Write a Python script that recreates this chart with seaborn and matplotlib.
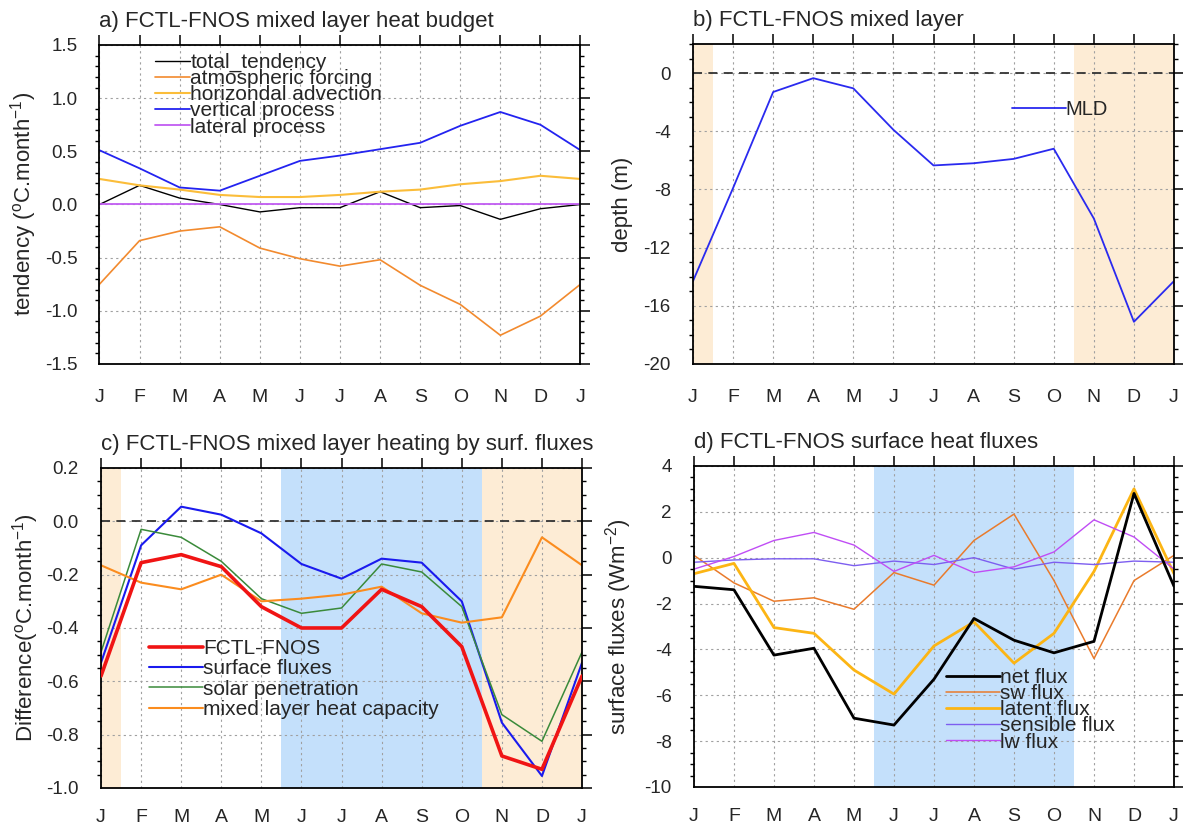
import numpy as np
import pandas as pd
import matplotlib
matplotlib.use("Agg")
import matplotlib.pyplot as plt
import seaborn as sns
from matplotlib.ticker import MultipleLocator, FormatStrFormatter

sns.set_style("white")
plt.rcParams['font.family'] = ['Liberation Sans', 'DejaVu Sans']
plt.rcParams['mathtext.fontset'] = 'custom'
plt.rcParams['mathtext.rm'] = 'Liberation Sans'
plt.rcParams['mathtext.it'] = 'Liberation Sans:italic'
plt.rcParams['axes.unicode_minus'] = False

# month labels (Jan .. Dec, then Jan again to close the annual cycle)
months = ['J', 'F', 'M', 'A', 'M', 'J', 'J', 'A', 'S', 'O', 'N', 'D', 'J']

# a) mixed layer heat budget (degC/month)
total_tendency = [0.0, 0.18, 0.06, 0.0, -0.07, -0.03, -0.03, 0.12, -0.03, -0.01, -0.14, -0.04]
atm_forcing = [-0.75, -0.34, -0.25, -0.21, -0.41, -0.51, -0.58, -0.52, -0.76, -0.94, -1.23, -1.05]
horiz_adv = [0.24, 0.18, 0.14, 0.09, 0.07, 0.07, 0.09, 0.12, 0.14, 0.19, 0.22, 0.27]
vertical = [0.51, 0.34, 0.16, 0.13, 0.27, 0.41, 0.46, 0.52, 0.58, 0.74, 0.87, 0.75]
lateral = [0.005, 0.005, 0.005, 0.005, 0.005, 0.005, 0.005, 0.005, 0.005, 0.005, 0.005, 0.005]

# b) mixed layer depth difference (m)
mld = [-14.3, -7.9, -1.3, -0.35, -1.05, -3.9, -6.35, -6.2, -5.9, -5.2, -10.0, -17.1]

# c) heating by surface fluxes (degC/month)
fctl_fnos = [-0.58, -0.155, -0.125, -0.17, -0.32, -0.40, -0.40, -0.255, -0.32, -0.47, -0.88, -0.93]
surf_flux = [-0.53, -0.09, 0.055, 0.025, -0.045, -0.16, -0.215, -0.14, -0.155, -0.30, -0.755, -0.955]
solar_pen = [-0.49, -0.03, -0.06, -0.15, -0.29, -0.345, -0.325, -0.16, -0.19, -0.32, -0.725, -0.825]
heat_cap = [-0.165, -0.23, -0.255, -0.20, -0.30, -0.29, -0.275, -0.245, -0.345, -0.38, -0.36, -0.06]

# d) surface heat fluxes (W m-2)
net_flux = [-1.25, -1.4, -4.25, -3.95, -7.0, -7.3, -5.3, -2.65, -3.6, -4.15, -3.65, 2.8]
sw_flux = [0.1, -1.1, -1.9, -1.75, -2.25, -0.65, -1.2, 0.75, 1.9, -1.0, -4.4, -1.0]
latent_flux = [-0.7, -0.25, -3.05, -3.3, -4.9, -5.95, -3.85, -2.8, -4.6, -3.3, -0.6, 3.0]
sensible_flux = [-0.2, -0.1, -0.05, -0.05, -0.35, -0.15, -0.3, 0.0, -0.5, -0.2, -0.3, -0.15]
lw_flux = [-0.5, 0.05, 0.75, 1.1, 0.55, -0.6, 0.1, -0.65, -0.4, 0.25, 1.65, 0.9]

x = np.arange(len(months))


def cyc(v):
    return list(v) + [v[0]]


ORANGE_BG = '#fdecd5'
BLUE_BG = '#c4e0fb'

fig = plt.figure(figsize=(11.83, 8.27), dpi=100)
axa = fig.add_axes([0.0841, 0.5599, 0.4066, 0.3857])
axb = fig.add_axes([0.5858, 0.5599, 0.4066, 0.3869])
axc = fig.add_axes([0.0854, 0.0472, 0.4066, 0.3869])
axd = fig.add_axes([0.5866, 0.0484, 0.4058, 0.3882])


def style(ax, ylim, major, minor, fmt, title, ylabel, xpad=11):
    ax.set_xlim(0, 12)
    ax.set_ylim(*ylim)
    ax.set_xticks(x)
    ax.set_xticklabels(months)
    ax.yaxis.set_major_locator(MultipleLocator(major))
    ax.yaxis.set_minor_locator(MultipleLocator(minor))
    ax.yaxis.set_major_formatter(FormatStrFormatter(fmt))
    ax.set_axisbelow(True)
    ax.grid(True, which='major', color='#a0a0a0', lw=0.8, ls=(0, (2, 3)))
    for s in ax.spines.values():
        s.set_visible(True)
        s.set_color('black')
        s.set_linewidth(1.3)
    ax.tick_params(axis='both', which='major', direction='out', length=7, width=1.1,
                   color='black', top=True, right=True, labelsize=13.5, pad=9)
    ax.tick_params(axis='x', labelsize=14, pad=xpad)
    ax.tick_params(axis='y', which='minor', direction='out', length=3, width=1.0,
                   color='black', left=True, right=True)
    ax.text(0, 1.04, title, transform=ax.transAxes, ha='left', va='bottom', fontsize=16)
    ax.set_ylabel(ylabel, fontsize=16)
    ax.yaxis.set_label_coords(-0.125, 0.5)
    ax.set_xlabel('')


def legend(ax, anchor, hl, spacing, fs=15):
    ax.legend(loc='upper left', bbox_to_anchor=anchor, frameon=False, fontsize=fs,
              handlelength=hl, handletextpad=0.0, labelspacing=spacing,
              borderpad=0, borderaxespad=0)


# ---- a) heat budget
sns.lineplot(x=x, y=cyc(total_tendency), ax=axa, color='black', lw=1.0, label='total_tendency')
sns.lineplot(x=x, y=cyc(atm_forcing), ax=axa, color='#f28a2e', lw=1.2, label='atmospheric forcing')
sns.lineplot(x=x, y=cyc(horiz_adv), ax=axa, color='#fbbd3a', lw=1.5, label='horizondal advection')
sns.lineplot(x=x, y=cyc(vertical), ax=axa, color='#2323f0', lw=1.3, label='vertical process')
sns.lineplot(x=x, y=cyc(lateral), ax=axa, color='#c15cf2', lw=1.3, label='lateral process')
style(axa, (-1.5, 1.5), 0.5, 0.1, '%.1f', 'a) FCTL-FNOS mixed layer heat budget',
      r'tendency ($^{\mathrm{o}}$C.month$^{\mathrm{-1}}$)')
legend(axa, (0.115, 0.975), 1.7, -0.14)

# ---- b) mixed layer depth
axb.axvspan(0, 0.5, color=ORANGE_BG, lw=0, zorder=0)
axb.axvspan(9.5, 12, color=ORANGE_BG, lw=0, zorder=0)
axb.axhline(0, color='#333333', lw=1.3, ls=(0, (5, 3.5)), zorder=2)
sns.lineplot(x=x, y=cyc(mld), ax=axb, color='#2a2aef', lw=1.3, label='MLD')
style(axb, (-20, 2), 4, 1, '%d', 'b) FCTL-FNOS mixed layer', 'depth (m)')
legend(axb, (0.664, 0.826), 2.65, 0.0, fs=14.5)

# ---- c) heating by surface fluxes
axc.axvspan(0, 0.5, color=ORANGE_BG, lw=0, zorder=0)
axc.axvspan(4.5, 9.5, color=BLUE_BG, lw=0, zorder=0)
axc.axvspan(9.5, 12, color=ORANGE_BG, lw=0, zorder=0)
axc.axhline(0, color='#333333', lw=1.3, ls=(0, (5, 3.5)), zorder=2)
sns.lineplot(x=x, y=cyc(fctl_fnos), ax=axc, color='#f01414', lw=2.6, label='FCTL-FNOS', zorder=5)
sns.lineplot(x=x, y=cyc(surf_flux), ax=axc, color='#1a1aee', lw=1.5, label='surface fluxes')
sns.lineplot(x=x, y=cyc(solar_pen), ax=axc, color='#3a8a3a', lw=1.1, label='solar penetration')
sns.lineplot(x=x, y=cyc(heat_cap), ax=axc, color='#fb8c1e', lw=1.5, label='mixed layer heat capacity')
style(axc, (-1.0, 0.2), 0.2, 0.05, '%.1f', 'c) FCTL-FNOS mixed layer heating by surf. fluxes',
      r'Difference($^{\mathrm{o}}$C.month$^{\mathrm{-1}}$)', xpad=8)
legend(axc, (0.10, 0.465), 2.6, 0.06)

# ---- d) surface heat fluxes
axd.axvspan(4.5, 9.5, color=BLUE_BG, lw=0, zorder=0)
sns.lineplot(x=x, y=cyc(net_flux), ax=axd, color='black', lw=2.0, label='net flux', zorder=5)
sns.lineplot(x=x, y=cyc(sw_flux), ax=axd, color='#e97b2c', lw=1.1, label='sw flux')
sns.lineplot(x=x, y=cyc(latent_flux), ax=axd, color='#fcb514', lw=2.0, label='latent flux')
sns.lineplot(x=x, y=cyc(sensible_flux), ax=axd, color='#7d5ef0', lw=1.0, label='sensible flux')
sns.lineplot(x=x, y=cyc(lw_flux), ax=axd, color='#c04df5', lw=1.0, label='lw flux')
style(axd, (-10, 4), 2, 0.5, '%d', 'd) FCTL-FNOS surface heat fluxes',
      r'surface fluxes (Wm$^{\mathrm{-2}}$)', xpad=8)
legend(axd, (0.526, 0.37), 2.55, -0.14)

fig.savefig('out.png', dpi=100)
